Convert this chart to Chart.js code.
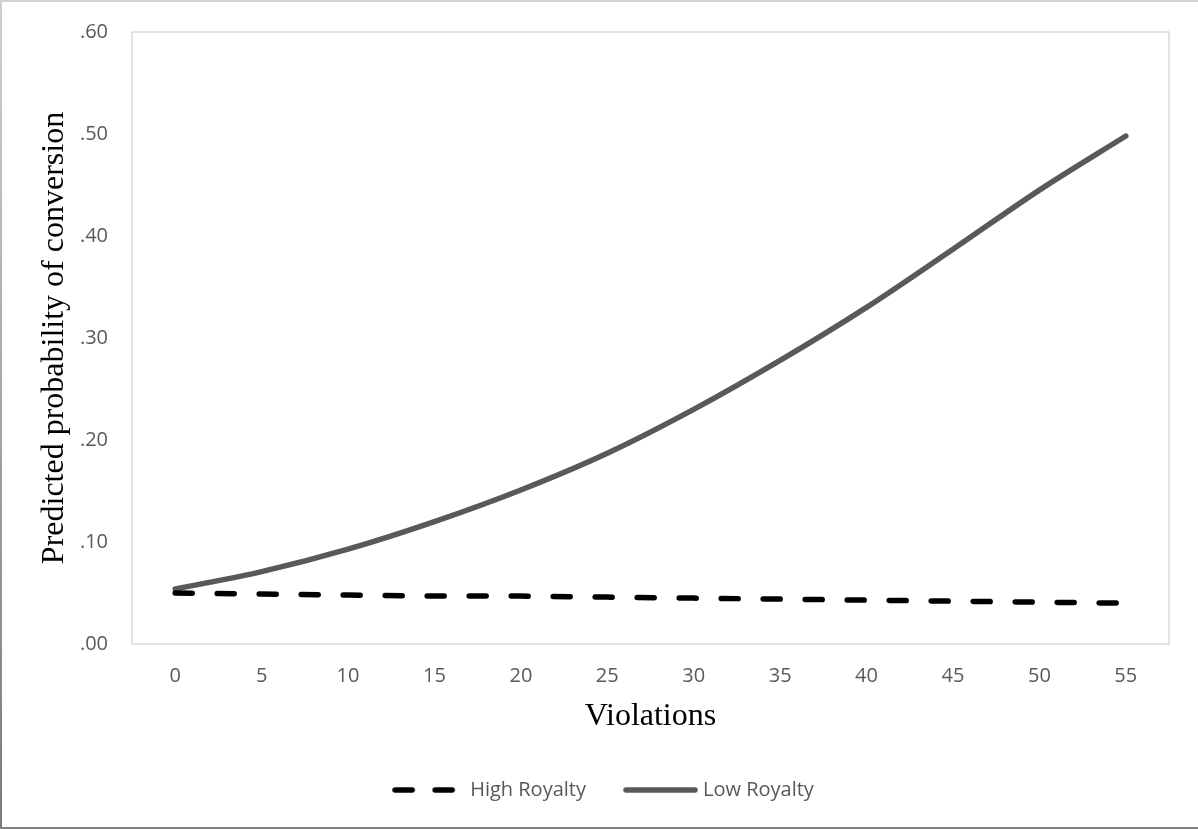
<!DOCTYPE html>
<html>
<head>
<meta charset="utf-8">
<script src="https://cdn.jsdelivr.net/npm/chart.js@4/dist/chart.umd.min.js"></script>
<style>
  html, body { margin: 0; padding: 0; background: #fff; }
  #wrap { width: 1198px; height: 829px; position: relative; }
</style>
</head>
<body>
<div id="wrap"><canvas id="c" width="1198" height="829"></canvas></div>
<script>
const violations = ['0','5','10','15','20','25','30','35','40','45','50','55'];
const highRoyalty = [0.050, 0.049, 0.048, 0.047, 0.047, 0.046, 0.045, 0.044, 0.043, 0.042, 0.041, 0.040];
const lowRoyalty  = [0.054, 0.071, 0.093, 0.120, 0.151, 0.187, 0.230, 0.278, 0.330, 0.387, 0.445, 0.498];
const yTickLabels = ['.00', '.10', '.20', '.30', '.40', '.50', '.60'];

function swatch(w, color, dash, x0, x1) {
  const c = document.createElement('canvas');
  c.width = w; c.height = 8;
  const g = c.getContext('2d');
  g.strokeStyle = color;
  g.lineWidth = 5.5;
  g.lineCap = 'round';
  g.setLineDash(dash);
  g.beginPath();
  g.moveTo(x0, 4);
  g.lineTo(x1, 4);
  g.stroke();
  return c;
}
const highSwatch = swatch(66, '#000000', [17, 23], 3, 62);
const lowSwatch = swatch(80, '#595959', [], 8, 77);

const frame = {
  id: 'frame',
  beforeDatasetsDraw(chart) {
    const {ctx, chartArea: a} = chart;
    ctx.save();
    ctx.strokeStyle = '#d9d9d9';
    ctx.lineWidth = 1.5;
    ctx.strokeRect(a.left, a.top, a.right - a.left, a.bottom - a.top);
    ctx.restore();
  },
  afterDraw(chart) {
    const {ctx, width, height} = chart;
    ctx.save();
    ctx.fillStyle = '#d4d4d4';
    ctx.fillRect(0, 0, width, 2);
    const g = ctx.createLinearGradient(0, 0, 0, height);
    g.addColorStop(0, '#d0d0d0');
    g.addColorStop(1, '#7a7a7a');
    ctx.fillStyle = g;
    ctx.fillRect(0, 0, 2, height);
    ctx.fillStyle = '#808080';
    ctx.fillRect(0, height - 2, width, 2);
    ctx.restore();
  }
};

new Chart(document.getElementById('c'), {
  type: 'line',
  data: {
    labels: violations,
    datasets: [
      {
        label: 'High Royalty',
        data: highRoyalty,
        borderColor: '#000000',
        backgroundColor: '#000000',
        borderWidth: 5.5,
        borderDash: [17, 25],
        borderCapStyle: 'round',
        pointRadius: 0,
        pointStyle: highSwatch,
        tension: 0
      },
      {
        label: 'Low Royalty',
        data: lowRoyalty,
        borderColor: '#595959',
        backgroundColor: '#595959',
        borderWidth: 5.5,
        borderCapStyle: 'round',
        pointRadius: 0,
        pointStyle: lowSwatch,
        cubicInterpolationMode: 'monotone'
      }
    ]
  },
  options: {
    responsive: false,
    animation: false,
    layout: { padding: { top: 32, right: 29, left: 35, bottom: 19 } },
    plugins: {
      tooltip: { enabled: false },
      legend: {
        position: 'bottom',
        labels: {
          usePointStyle: true,
          pointStyleWidth: 70,
          padding: 37,
          color: '#595959',
          font: { family: '"Open Sans", sans-serif', size: 20 }
        }
      }
    },
    scales: {
      x: {
        offset: true,
        grid: { display: false, drawTicks: false },
        border: { display: false },
        ticks: {
          padding: 20,
          color: '#595959',
          font: { family: '"Open Sans", sans-serif', size: 20 }
        },
        title: {
          display: true,
          text: 'Violations',
          color: '#000000',
          padding: { top: 0, bottom: 7 },
          font: { family: '"Liberation Serif", "Times New Roman", serif', size: 32 }
        },
        afterFit(s) { s.height = 99; }
      },
      y: {
        min: 0,
        max: 0.6,
        grid: { display: false, drawTicks: false },
        border: { display: false },
        ticks: {
          stepSize: 0.1,
          padding: 24,
          color: '#595959',
          font: { family: '"Open Sans", sans-serif', size: 20 },
          callback: (v, i) => yTickLabels[i]
        },
        title: {
          display: true,
          text: 'Predicted probability of conversion',
          color: '#000000',
          padding: { top: 4, bottom: 0 },
          font: { family: '"Liberation Serif", "Times New Roman", serif', size: 32, lineHeight: 1 }
        },
        afterFit(s) { s.width = 97; s.paddingTop = 0; s.paddingBottom = 0; }
      }
    }
  },
  plugins: [frame]
});
</script>
</body>
</html>
